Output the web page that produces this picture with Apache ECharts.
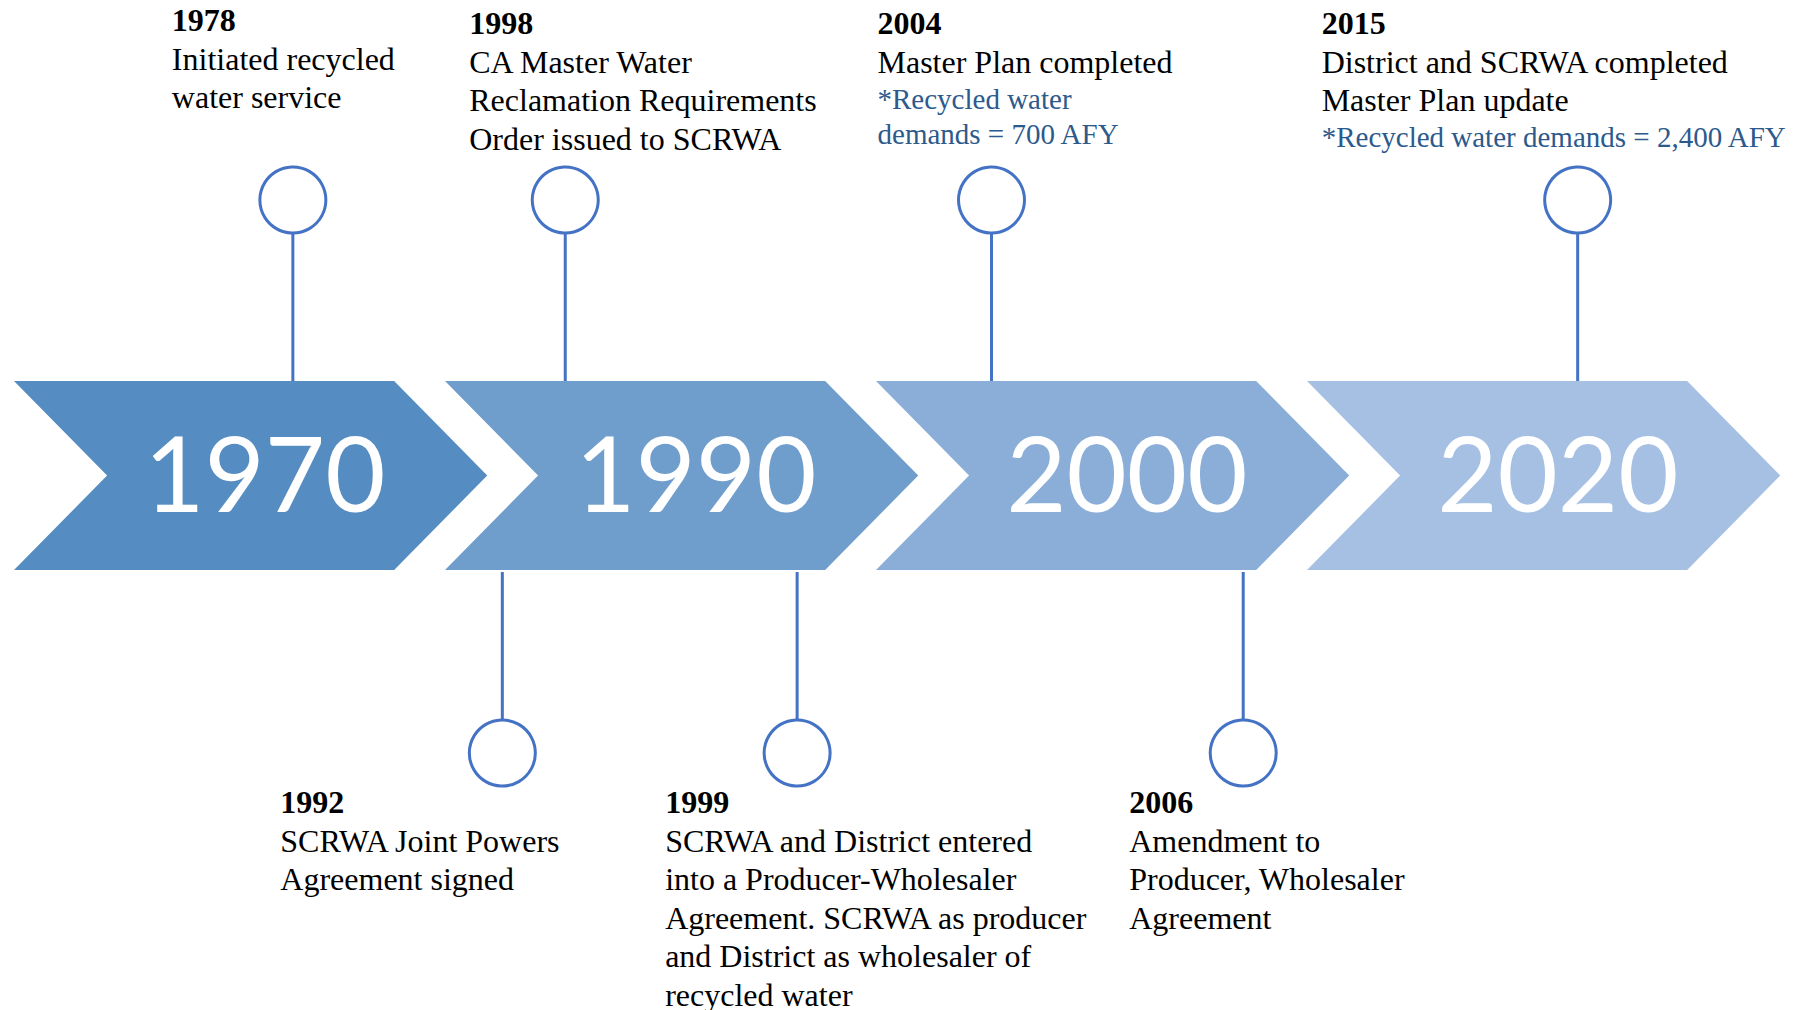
<!DOCTYPE html>
<html>
<head>
<meta charset="utf-8">
<title>Recycled water timeline</title>
<script src="https://cdn.jsdelivr.net/npm/echarts@6/dist/echarts.min.js"></script>
<style>
  html, body { margin: 0; padding: 0; background: #fff; }
  #timeline { width: 1810px; height: 1010px; }
</style>
</head>
<body>
<div id="timeline"></div>
<script>
// eras shown in the arrows
const eras = ['1970', '1990', '2000', '2020'];

// milestones: year, where it sits on the timeline (in arrow units), above (1) or below (-1)
const eventYears = ['1978', '1992', '1998', '1999', '2004', '2006', '2015'];
const eventPos = [0.647, 1.133, 1.279, 1.817, 2.268, 2.852, 3.628];
const eventSide = [1, -1, 1, -1, 1, -1, 1];
const eventText = [
  ['Initiated recycled', 'water service'],
  ['SCRWA Joint Powers', 'Agreement signed'],
  ['CA Master Water', 'Reclamation Requirements', 'Order issued to SCRWA'],
  ['SCRWA and District entered', 'into a Producer-Wholesaler', 'Agreement. SCRWA as producer', 'and District as wholesaler of', 'recycled water'],
  ['Master Plan completed'],
  ['Amendment to', 'Producer, Wholesaler', 'Agreement'],
  ['District and SCRWA completed', 'Master Plan update']
];
const eventNote = [
  [], [], [], [],
  ['*Recycled water', 'demands = 700 AFY'],
  [],
  ['*Recycled water demands = 2,400 AFY']
];

// layout only: caption offsets from the stem (px)
const labelShift = [-121, -222, -96, -132, -114, -114, -256];
const labelLift = [3, 0, 0, 0, 0, 0, 0];

const arrowColors = ['#558CC1', '#6F9DCC', '#8AAED7', '#A5C0E3'];
const stemColor = '#4472C4';
const serif = '"Liberation Serif", "Times New Roman", serif';

const rich = {
  y: { fontFamily: serif, fontWeight: 'bold', fontSize: 32, lineHeight: 38.5, fill: '#000' },
  b: { fontFamily: serif, fontSize: 32, lineHeight: 38.5, fill: '#000' },
  n: { fontFamily: serif, fontSize: 29, lineHeight: 35, fill: '#2C5A8C' }
};

function renderArrow(params, api) {
  const i = api.value(0);
  const p = api.coord([i, 0]);
  const s = api.size([1, 1]);
  const u = s[0], hh = s[1];
  const x0 = p[0], cy = p[1];
  return {
    type: 'group',
    children: [{
      type: 'polygon',
      shape: { points: [
        [x0, cy - hh], [x0 + 0.882 * u, cy - hh], [x0 + 1.098 * u, cy],
        [x0 + 0.882 * u, cy + hh], [x0, cy + hh], [x0 + 0.216 * u, cy]
      ] },
      style: { fill: arrowColors[i] }
    }, {
      type: 'text',
      x: x0 + 0.582 * u,
      y: cy - 4,
      style: {
        text: eras[i],
        fontFamily: 'Lato, "Noto Sans", sans-serif',
        fontSize: 104,
        fill: '#fff',
        align: 'center',
        verticalAlign: 'middle'
      }
    }]
  };
}

function renderEvent(params, api) {
  const k = api.value(2);
  const side = api.value(1);
  const p = api.coord([api.value(0), 0]);
  const hh = api.size([0, 1])[1];
  const x = p[0];
  const edge = side > 0 ? p[1] - hh : p[1] + hh + 2;
  const r = 33;
  const cc = edge - side * 181;
  const lines = ['{y|' + eventYears[k] + '}']
    .concat(eventText[k].map(t => '{b|' + t + '}'))
    .concat(eventNote[k].map(t => '{n|' + t + '}'));
  const textTop = (side > 0 ? edge - 377 : edge + 211) - labelLift[k];
  return {
    type: 'group',
    children: [{
      type: 'line',
      shape: { x1: x, y1: edge, x2: x, y2: cc + side * r },
      style: { stroke: stemColor, lineWidth: 3 }
    }, {
      type: 'circle',
      shape: { cx: x, cy: cc, r: r },
      style: { fill: '#fff', stroke: stemColor, lineWidth: 3 }
    }, {
      type: 'text',
      x: x + labelShift[k],
      y: textTop,
      style: {
        text: lines.join('\n'),
        rich: rich,
        align: 'left',
        verticalAlign: 'top'
      }
    }]
  };
}

const option = {
  backgroundColor: '#fff',
  animation: false,
  grid: { left: 14, top: 381, width: 1724, height: 189 },
  xAxis: { type: 'value', min: 0, max: 4, show: false },
  yAxis: { type: 'value', min: -1, max: 1, show: false },
  series: [{
    type: 'custom',
    clip: false,
    renderItem: renderArrow,
    data: eras.map((e, i) => [i])
  }, {
    type: 'custom',
    clip: false,
    renderItem: renderEvent,
    data: eventPos.map((pos, i) => [pos, eventSide[i], i])
  }]
};

const chart = echarts.init(document.getElementById('timeline'), null, { renderer: 'svg' });
chart.setOption(option);
</script>
</body>
</html>
